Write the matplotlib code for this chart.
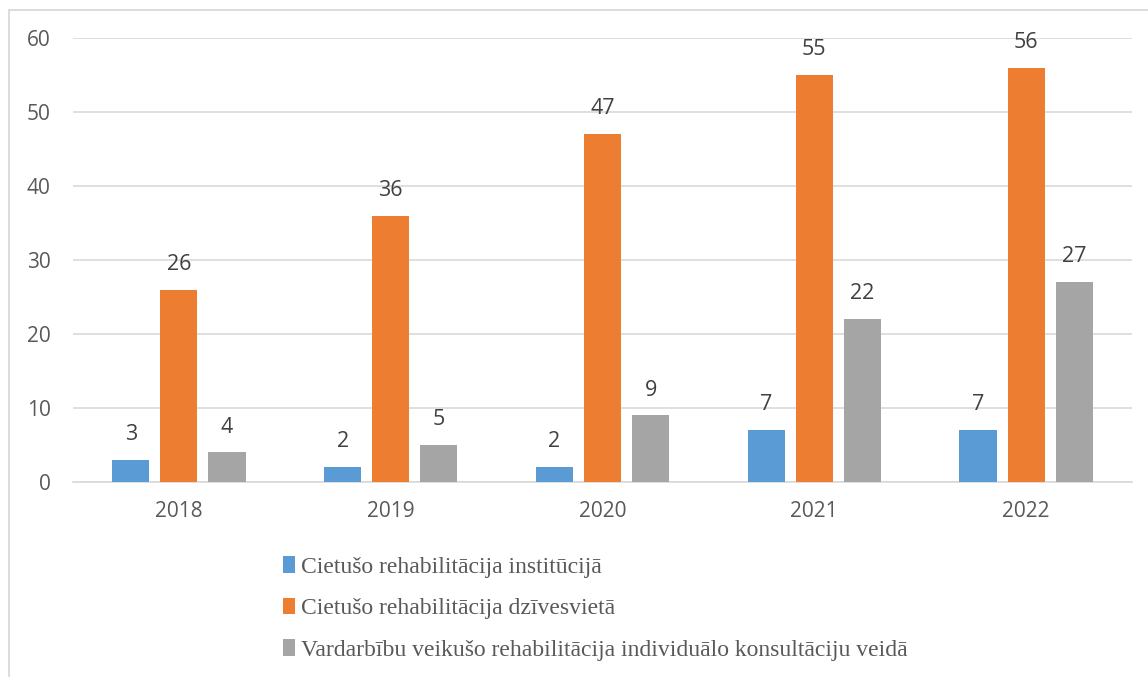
import matplotlib
matplotlib.use("Agg")
import matplotlib.pyplot as plt
import numpy as np
from matplotlib.patches import Rectangle

# data
years = ['2018', '2019', '2020', '2021', '2022']
institucija = [3, 2, 2, 7, 7]
dzivesvieta = [26, 36, 47, 55, 56]
vardarbiba = [4, 5, 9, 22, 27]

series_names = ['Cietušo rehabilitācija institūcijā',
                'Cietušo rehabilitācija dzīvesvietā',
                'Vardarbību veikušo rehabilitācija individuālo konsultāciju veidā']
colors = ['#5b9bd5', '#ed7d31', '#a5a5a5']

plt.rcParams['font.family'] = ['Open Sans', 'DejaVu Sans']

fig = plt.figure(figsize=(11.48, 6.77), dpi=100)
fig.patch.set_facecolor('w')

# outer chart border (only left and top visible in the crop)
fig.add_artist(Rectangle((8.5 / 1148, -0.1), 1.2, 0.1 + (677 - 10) / 677,
                         transform=fig.transFigure, fill=False,
                         edgecolor='#d9d9d9', linewidth=1.3))

ax = fig.add_axes([73 / 1148, 195 / 677, (1132 - 73) / 1148, (482 - 38) / 677])

x = np.arange(len(years))
width = 0.175
step = 0.227

for i, (vals, col, name) in enumerate(zip([institucija, dzivesvieta, vardarbiba], colors, series_names)):
    bars = ax.bar(x + (i - 1) * step, vals, width, color=col, label=name, zorder=3)
    for b, v in zip(bars, vals):
        ax.text(b.get_x() + b.get_width() / 2, v + 2.0, str(v), ha='center', va='bottom',
                fontsize=15.5, color='#404040')

ax.set_xlim(-0.5, len(years) - 0.5)
ax.set_ylim(0, 60)
ax.set_yticks(range(0, 61, 10))
ax.set_xticks(x)
ax.set_xticklabels(years)
ax.yaxis.grid(True, color='#d9d9d9', linewidth=1.2, zorder=0)
for s in ['top', 'right', 'left']:
    ax.spines[s].set_visible(False)
ax.spines['bottom'].set_color('#d9d9d9')
ax.spines['bottom'].set_linewidth(1.2)
ax.tick_params(axis='both', length=0, labelsize=15, labelcolor='#595959')
ax.tick_params(axis='y', pad=16)
ax.tick_params(axis='x', pad=14)

leg = fig.legend(loc='upper left', bbox_to_anchor=(262 / 1148, 1 - 535 / 677),
                 frameon=False, ncol=1, handlelength=0.5, handleheight=0.7,
                 handletextpad=0.25, labelspacing=0.85,
                 prop={'family': 'Liberation Serif', 'size': 17})
for t in leg.get_texts():
    t.set_color('#595959')

fig.savefig('out.png', dpi=100)
